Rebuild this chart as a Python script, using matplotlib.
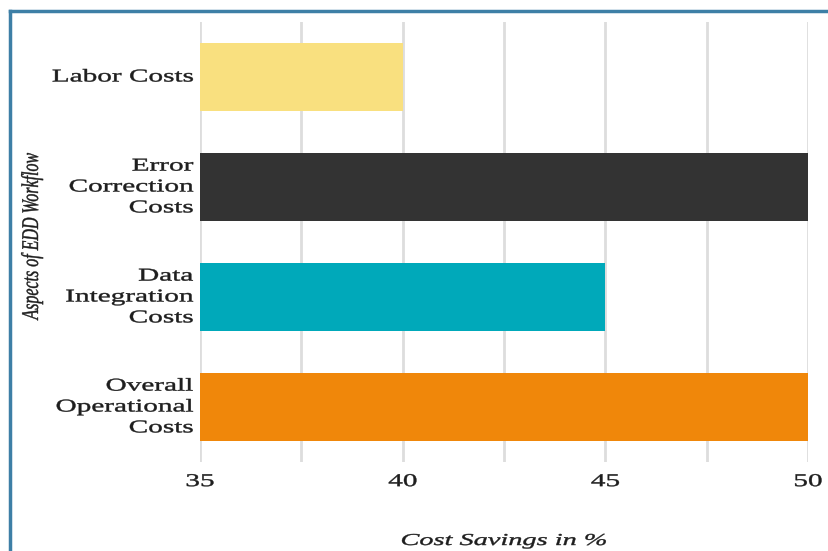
import matplotlib
matplotlib.use("Agg")
import matplotlib.pyplot as plt
from matplotlib.lines import Line2D
from matplotlib.patheffects import AbstractPathEffect
from matplotlib.transforms import Affine2D

categories = ["Labor Costs", "Error\nCorrection\nCosts", "Data\nIntegration\nCosts", "Overall\nOperational\nCosts"]
values = [40, 50, 45, 50]
colors = ["#F9E07F", "#333333", "#00A9BA", "#F0870A"]
xticks = [35, 40, 45, 50]
xlabel = "Cost Savings in %"
ylabel = "Aspects of EDD Workflow"


class StretchX(AbstractPathEffect):
    """Widen text horizontally (the reference image is stretched sideways)."""

    def __init__(self, sx, anchor="center", stroke=0.3):
        super().__init__()
        self.sx = sx
        self.anchor = anchor
        self.stroke = stroke

    def draw_path(self, renderer, gc, tpath, affine, rgbFace=None):
        ext = tpath.transformed(affine).get_extents()
        if self.anchor == "right":
            a = ext.x1
        elif self.anchor == "left":
            a = ext.x0
        else:
            a = 0.5 * (ext.x0 + ext.x1)
        new = affine + Affine2D().translate(-a, 0).scale(self.sx, 1).translate(a, 0)
        gc0 = renderer.new_gc()
        gc0.copy_properties(gc)
        if rgbFace is not None and self.stroke > 0:
            gc0.set_foreground(rgbFace)
            gc0.set_linewidth(self.stroke)
        renderer.draw_path(gc0, tpath, new, rgbFace)
        gc0.restore()


SERIF = "Liberation Serif"
TXT = "#1e1e1e"
W, H = 829, 551
fig = plt.figure(figsize=(W / 100, H / 100), dpi=100)
fig.patch.set_facecolor("white")
ax = fig.add_axes([200 / W, 1 - 462 / H, (808 - 200) / W, (462 - 22) / H])

ypos = list(range(len(categories)))
ax.barh(ypos, [v - 35 for v in values], left=35, height=0.62, color=colors, zorder=3)
ax.set_ylim(3.5, -0.5)
ax.set_xlim(35, 50)
ax.set_xticks(xticks)
ax.set_xticks([37.5, 42.5, 47.5], minor=True)
ax.grid(axis="x", which="both", color="#dddddd", linewidth=2, zorder=0)
ax.set_yticks(ypos)
ax.set_yticklabels(categories, family=SERIF, fontsize=13, linespacing=1.3,
                   ha="right", va="center", color=TXT)
for lab in ax.get_yticklabels():
    lab.set_path_effects([StretchX(1.62, "right")])
for lab in ax.get_xticklabels():
    lab.set_family(SERIF)
    lab.set_fontsize(13)
    lab.set_color(TXT)
    lab.set_path_effects([StretchX(1.62, "center")])
ax.tick_params(axis="both", which="both", length=0)
ax.tick_params(axis="x", pad=8)
ax.tick_params(axis="y", pad=5)
for s in ax.spines.values():
    s.set_visible(False)

fig.text(504 / W, 1 - 541 / H, xlabel, ha="center", va="center", family=SERIF,
         style="italic", fontsize=12, color=TXT,
         path_effects=[StretchX(1.7, "center", 0.3)])
fig.text(32 / W, 1 - 236 / H, ylabel, ha="center", va="center", family=SERIF,
         style="italic", fontsize=11.5, rotation=90, color=TXT,
         path_effects=[StretchX(1.5, "center", 0.3)])

border = "#3d7fa6"
fig.add_artist(Line2D([10 / W, 10 / W], [0, 1 - 11 / H], color=border, linewidth=2.5, transform=fig.transFigure))
fig.add_artist(Line2D([10 / W, 1], [1 - 11 / H, 1 - 11 / H], color=border, linewidth=2.5, transform=fig.transFigure))

fig.savefig("out.png", dpi=100, facecolor="white")
